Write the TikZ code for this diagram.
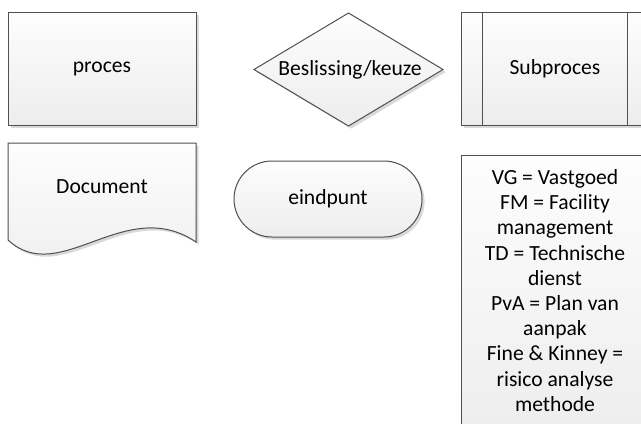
\documentclass[tikz,border=0pt]{standalone}
\usepackage{fontspec}
\setmainfont{Carlito}
\usetikzlibrary{shapes.misc,shadows}
\definecolor{lijn}{HTML}{505050}
\definecolor{vulboven}{HTML}{FDFDFD}
\definecolor{vulonder}{HTML}{EDEDED}
\definecolor{schaduw}{HTML}{CFCFCF}
\begin{document}
\begin{tikzpicture}[x=0.5pt, y=0.5pt,
        vorm/.style={draw=lijn, line width=0.5pt, top color=vulboven, bottom color=vulonder,
            drop shadow={shadow xshift=1.3pt, shadow yshift=-1.3pt, fill=schaduw, opacity=0.8}},
        tekst/.style={font=\fontsize{10.8pt}{12.6pt}\selectfont, inner sep=0pt, align=center},
        blok/.style={vorm, tekst, rectangle, minimum width=94pt, minimum height=56.5pt}
    ]
    \clip (0,0) rectangle (641,-423);
    % bovenste rij
    \node[blok] (proces) at (102,-68.5) {proces};
    \path[vorm] (254,-69.5) -- (348.5,-13) -- (443,-69.5) -- (348.5,-126) -- cycle;
    \node[tekst] (keuze) at (350,-69.5) {Beslissing/keuze};
    \node[blok] (sub) at (555,-68.5) {Subproces};
    \draw[lijn, line width=0.5pt] ([xshift=11pt]sub.north west) -- ([xshift=11pt]sub.south west)
        ([xshift=-11pt]sub.north east) -- ([xshift=-11pt]sub.south east);
    % onderste rij
    \path[vorm] (8,-143) -- (196,-143) -- (196,-242) .. controls (125,-194) and (60,-288) .. (8,-240) -- cycle;
    \node[tekst] (doc) at (102,-187) {Document};
    \node[vorm, tekst, rounded rectangle, minimum width=94pt, minimum height=38pt] (eind) at (328,-199) {eindpunt};
    \path[vorm] (461,-155) rectangle (649,-440);
    \node[tekst, anchor=north] (legenda) at (555,-169) {VG = Vastgoed\\FM = Facility\\management\\TD = Technische\\dienst\\PvA = Plan van\\aanpak\\Fine \& Kinney =\\risico analyse\\methode};
\end{tikzpicture}
\end{document}
